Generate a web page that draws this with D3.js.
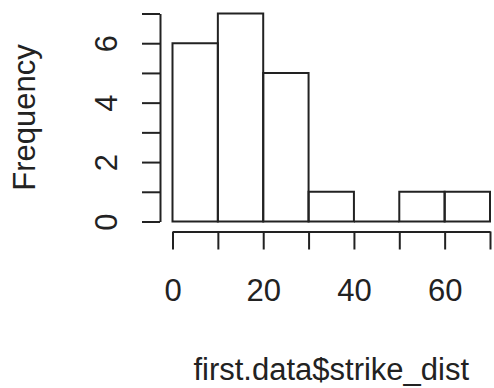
<!DOCTYPE html>
<html>
<head>
<meta charset="utf-8">
<script src="https://cdn.jsdelivr.net/npm/d3@7"></script>
<style>
  body { margin: 0; background: #fff; }
  svg text { font-family: "Liberation Sans", Arial, sans-serif; fill: #222; }
</style>
</head>
<body>
<div id="chart"></div>
<script>
// histogram bins (10-wide) and counts
const binStarts = [0, 10, 20, 30, 40, 50, 60];
const binWidth = 10;
const counts = [6, 7, 5, 1, 0, 1, 1];
const xTicks = [0, 10, 20, 30, 40, 50, 60, 70];
const xLabels = [0, 20, 40, 60];
const yTicks = [0, 1, 2, 3, 4, 5, 6, 7];
const yLabels = [0, 2, 4, 6];

const width = 494, height = 388;
const ink = '#222';
const fontSize = 31;

const svg = d3.select('#chart').append('svg')
    .attr('width', width)
    .attr('height', height);

const x = d3.scaleLinear().domain([0, 70]).range([172.5, 490]);
const y = d3.scaleLinear().domain([0, 7]).range([221.5, 13.5]);

// bars as closed paths so an empty bin still shows its base line
svg.append('g').selectAll('path')
    .data(binStarts)
    .join('path')
    .attr('d', (d, i) => `M${x(d)},${y(0)}V${y(counts[i])}H${x(d + binWidth)}V${y(0)}Z`)
    .attr('fill', 'none')
    .attr('stroke', ink)
    .attr('stroke-width', 2);

// x axis (R style: offset below the bars)
const xAxis = svg.append('g')
    .attr('transform', `translate(0,${231.5})`)
    .call(d3.axisBottom(x)
        .tickValues(xTicks)
        .tickSize(18)
        .tickSizeOuter(0)
        .tickFormat(d => xLabels.includes(d) ? d : ''));
xAxis.select('.domain').attr('stroke', ink).attr('stroke-width', 2);
xAxis.selectAll('.tick line').attr('stroke', ink).attr('stroke-width', 2);
xAxis.selectAll('.tick text')
    .attr('y', 69)
    .attr('dy', 0)
    .attr('fill', ink)
    .style('font-size', fontSize + 'px');

// y axis
const yAxis = svg.append('g')
    .attr('transform', `translate(${160},0)`)
    .call(d3.axisLeft(y)
        .tickValues(yTicks)
        .tickSize(18)
        .tickSizeOuter(0)
        .tickFormat(d => yLabels.includes(d) ? d : ''));
yAxis.select('.domain').attr('stroke', ink).attr('stroke-width', 2);
yAxis.selectAll('.tick line').attr('stroke', ink).attr('stroke-width', 2);
yAxis.selectAll('.tick text')
    .attr('x', 0)
    .attr('dy', 0)
    .attr('transform', 'translate(-43,0) rotate(-90)')
    .attr('text-anchor', 'middle')
    .attr('fill', ink)
    .style('font-size', fontSize + 'px');

// axis titles
svg.append('text')
    .attr('transform', `translate(35,${(y(0) + y(7)) / 2}) rotate(-90)`)
    .attr('text-anchor', 'middle')
    .style('font-size', fontSize + 'px')
    .text('Frequency');

svg.append('text')
    .attr('x', (x(0) + x(70)) / 2)
    .attr('y', 380)
    .attr('text-anchor', 'middle')
    .style('font-size', fontSize + 'px')
    .text('first.data$strike_dist');
</script>
</body>
</html>
